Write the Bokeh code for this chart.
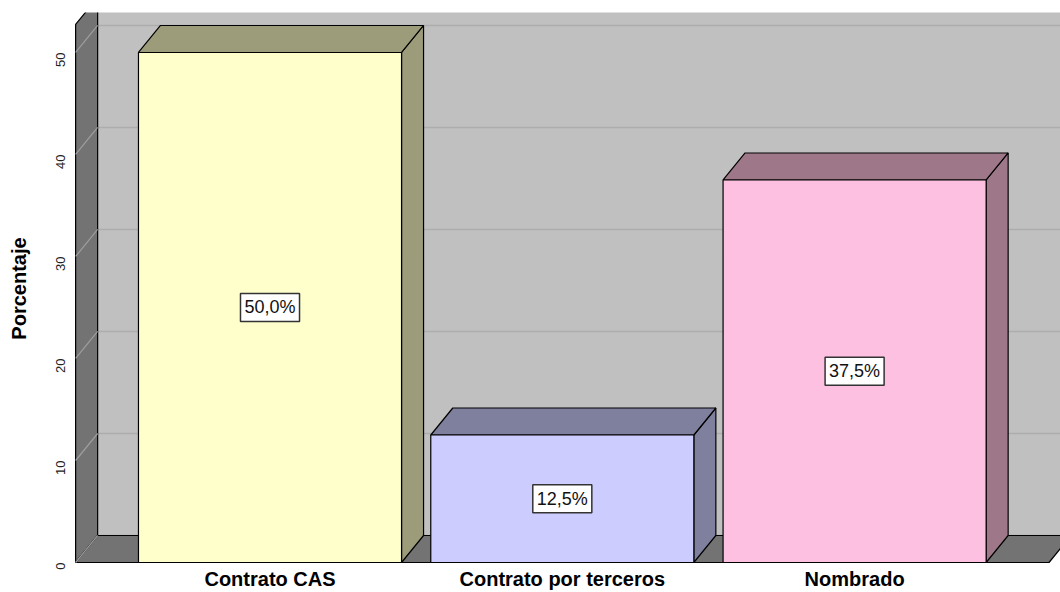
import math
from bokeh.plotting import figure
from bokeh.models import Range1d, FixedTicker, ColumnDataSource
from bokeh.core.properties import value
from bokeh.embed import file_html
from bokeh.resources import INLINE

# ---- data ----
categories = ["Contrato CAS", "Contrato por terceros", "Nombrado"]
percentages = [50.0, 12.5, 37.5]
value_labels = ["50,0%", "12,5%", "37,5%"]
y_ticks = [0, 10, 20, 30, 40, 50]

# ---- style ----
front_colors = ["#FFFFCC", "#CCCCFF", "#FEC0E0"]
shade_colors = ["#9C9C7B", "#7F7F9E", "#9E7889"]
WALL_BACK = "#C0C0C0"
WALL_DARK = "#737373"
GRID_COLOR = "#ADADAD"
TICK_DIAG = "#9E9E9E"
FONT = "Liberation Sans"

DX = 0.0753      # depth offset in x units
DY = 2.647       # depth offset in y units
HALF = 0.45      # half bar width
U_LEFT = -0.665
U_RIGHT = 2.665
WALL_TOP = 52.75

p = figure(width=1060, height=592, output_backend="svg", toolbar_location=None,
           x_range=Range1d(-0.6757, 2.7044), y_range=Range1d(-0.196, 53.92),
           min_border_left=72, min_border_right=0, min_border_top=12, min_border_bottom=28,
           background_fill_color="white", border_fill_color="white")
p.outline_line_color = None
p.xgrid.visible = False
p.ygrid.visible = False

# back wall
p.patch([U_LEFT + DX, U_RIGHT + DX, U_RIGHT + DX, U_LEFT + DX],
        [DY, DY, WALL_TOP + DY, WALL_TOP + DY],
        fill_color=WALL_BACK, line_color=None)
# back-wall gridlines
p.segment(x0=[U_LEFT + DX] * len(y_ticks), y0=[t + DY for t in y_ticks],
          x1=[U_RIGHT + DX] * len(y_ticks), y1=[t + DY for t in y_ticks],
          line_color=GRID_COLOR, line_width=1.5)
# left wall
p.patch([U_LEFT, U_LEFT, U_LEFT + DX, U_LEFT + DX],
        [0, WALL_TOP, WALL_TOP + DY, DY],
        fill_color=WALL_DARK, line_color="black", line_width=1.2)
# floor
p.patch([U_LEFT, U_RIGHT, U_RIGHT + DX, U_LEFT + DX],
        [0, 0, DY, DY],
        fill_color=WALL_DARK, line_color="black", line_width=1.2)
# left-wall tick diagonals
p.segment(x0=[U_LEFT] * len(y_ticks), y0=y_ticks,
          x1=[U_LEFT + DX] * len(y_ticks), y1=[t + DY for t in y_ticks],
          line_color=TICK_DIAG, line_width=1.2)

# bars
xs = list(range(len(categories)))
side_x, side_y, top_x, top_y = [], [], [], []
for i, v in zip(xs, percentages):
    r = i + HALF
    l = i - HALF
    side_x.append([r, r + DX, r + DX, r])
    side_y.append([0, DY, v + DY, v])
    top_x.append([l, r, r + DX, l + DX])
    top_y.append([v, v, v + DY, v + DY])
p.patches(side_x, side_y, fill_color=shade_colors, line_color="black", line_width=1.2)
p.patches(top_x, top_y, fill_color=shade_colors, line_color="black", line_width=1.2)
src = ColumnDataSource(dict(x=xs, top=percentages, color=front_colors,
                            mid=[v / 2 for v in percentages], lab=value_labels))
p.vbar(x="x", top="top", bottom=0, width=2 * HALF, source=src,
       fill_color="color", line_color="black", line_width=1.2)

p.text(x="x", y="mid", text="lab", source=src,
       text_align="center", text_baseline="middle",
       text_font=value(FONT), text_font_size="18px", text_color="#111111",
       background_fill_color="white", border_line_color="#333333",
       border_line_width=1.5, padding=4)

# axes
xa = p.xaxis[0]
xa.ticker = FixedTicker(ticks=xs)
xa.major_label_overrides = {i: c for i, c in zip(xs, categories)}
xa.major_label_text_font = FONT
xa.major_label_text_font_size = "20px"
xa.major_label_text_font_style = "bold"
xa.major_label_text_color = "black"
xa.major_label_standoff = 3
xa.major_tick_out = 0
xa.major_tick_in = 0
xa.minor_tick_out = 0
xa.minor_tick_in = 0
xa.axis_line_color = None

ya = p.yaxis[0]
ya.ticker = FixedTicker(ticks=y_ticks)
ya.major_label_orientation = math.pi / 2
ya.major_label_text_font = FONT
ya.major_label_text_font_size = "13px"
ya.major_label_text_color = "#222222"
ya.major_label_standoff = 12
ya.major_tick_out = 0
ya.major_tick_in = 0
ya.minor_tick_out = 0
ya.minor_tick_in = 0
ya.axis_line_color = None
ya.axis_label = "Porcentaje"
ya.axis_label_text_font = FONT
ya.axis_label_text_font_size = "20px"
ya.axis_label_text_font_style = "bold"
ya.axis_label_text_color = "black"
ya.axis_label_standoff = 19

open("out.html", "w").write(file_html(p, INLINE))
